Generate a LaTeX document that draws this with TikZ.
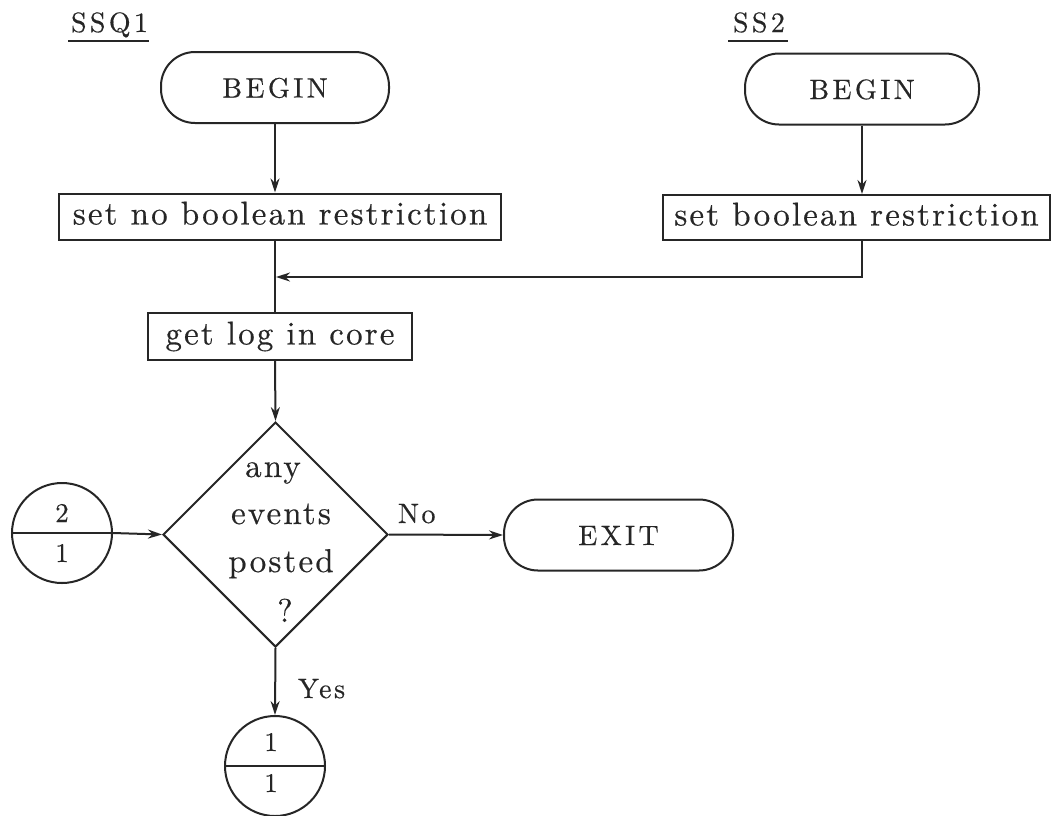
\documentclass[tikz,border=0pt]{standalone}
\usepackage{fontspec}
\usetikzlibrary{shapes.geometric,arrows.meta,calc}
\definecolor{ink}{RGB}{38,38,38}
% typewriter-like spaced lettering
\newfontfamily\spacedfam{lmroman10-regular.otf}[LetterSpace=6.5,FakeBold=0.4]
\newfontfamily\capsfam{lmroman10-regular.otf}[LetterSpace=12,FakeBold=0.4]
\newfontfamily\tagfam{lmroman10-regular.otf}[LetterSpace=9,FakeBold=0.4]
\newfontfamily\digitfam{lmroman10-regular.otf}[FakeBold=0.4]
\newcommand{\bodyfont}{\spacedfam\fontsize{33}{39}\selectfont}
\newcommand{\capfont}{\capsfam\fontsize{28}{34}\selectfont}
\newcommand{\tagfont}{\tagfam\fontsize{28}{34}\selectfont}
\newcommand{\digitfont}{\digitfam\fontsize{27}{32}\selectfont}
\begin{document}
\begin{tikzpicture}[x=1pt,y=-1pt,line width=2pt,color=ink,
  terminal/.style={draw,rounded corners=34pt,minimum height=71pt,inner sep=0pt,
    font=\capfont,text height=20pt,text depth=0pt},
  procbox/.style={draw,inner sep=0pt,font=\bodyfont,text height=22pt,text depth=6pt},
  decision/.style={draw,diamond,aspect=1,minimum width=225pt,minimum height=225pt,inner sep=0pt},
  conn/.style={draw,circle,minimum size=100pt,inner sep=0pt},
  txt/.style={inner sep=0pt,anchor=base},
  arr/.style={-{Stealth[length=14pt,width=9pt]}}]
\useasboundingbox[fill=white] (0,0) rectangle (1052,815);

% titles
\node[txt,anchor=base west,font=\capfont] (t1) at (70,32) {SSQ1};
\node[txt,anchor=base west,font=\capfont] (t2) at (732,32) {SS2};
\draw ([yshift=-9pt,xshift=-2pt]t1.base west) -- ([yshift=-9pt]t1.base east);
\draw ([yshift=-9pt,xshift=-4pt]t2.base west) -- ([yshift=-9pt,xshift=2pt]t2.base east);

% blocks
\node[terminal,minimum width=228pt] (b1) at (275,87.5) {BEGIN};
\node[terminal,minimum width=234pt] (b2) at (862,89) {BEGIN};
\node[procbox,minimum width=442pt,minimum height=46pt] (r1) at (280,216.5) {set no boolean restriction};
\node[procbox,minimum width=387pt,minimum height=45pt] (r2) at (856.5,217.5) {set boolean restriction};
\node[procbox,minimum width=264pt,minimum height=47pt] (log) at (280,336.5) {get log in core};
\node[decision] (dec) at (275.5,534.5) {};
\node[txt,font=\bodyfont] (d1) at (273,477) {any};
\node[txt,font=\bodyfont] (d2) at (281,524) {events};
\node[txt,font=\bodyfont] (d3) at (281,572) {posted};
\node[txt,font=\bodyfont] (d4) at (285,622) {?};
\node[terminal,minimum width=229pt] (exit) at (618.5,535) {EXIT};

% off-page connectors
\node[conn] (c1) at (62,533) {};
\node[conn] (c2) at (275,766) {};
\node[txt,font=\digitfont] (c1a) at ($(c1)+(0,-11)$) {2};
\node[txt,font=\digitfont] (c1b) at ($(c1)+(0,29)$) {1};
\node[txt,font=\digitfont] (c2a) at ($(c2)+(-4,-15)$) {1};
\node[txt,font=\digitfont] (c2b) at ($(c2)+(-4,26)$) {1};
\draw (c1.west) -- (c1.east);
\draw (c2.west) -- (c2.east);

% branch labels
\node[txt,anchor=base west,font=\tagfont] (no) at (397,523) {No};
\node[txt,anchor=base west,font=\tagfont] (yes) at (297,698) {Yes};

% flow lines
\coordinate (j) at (275,277);
\draw[arr] (b1.south) -- (b1.south |- r1.north);
\draw (b1.south |- r1.south) -- (b1.south |- log.north);
\draw[arr] (b2.south) -- (b2.south |- r2.north);
\draw[arr,shorten >=1pt] (b2.south |- r2.south) |- (j);
\draw[arr] (b1.south |- log.south) -- (dec.north);
\draw[arr] (c1.east) -- (dec.west);
\draw[arr] (dec.east) -- (exit.west);
\draw[arr] (dec.south) -- (c2.north);
\end{tikzpicture}
\end{document}
